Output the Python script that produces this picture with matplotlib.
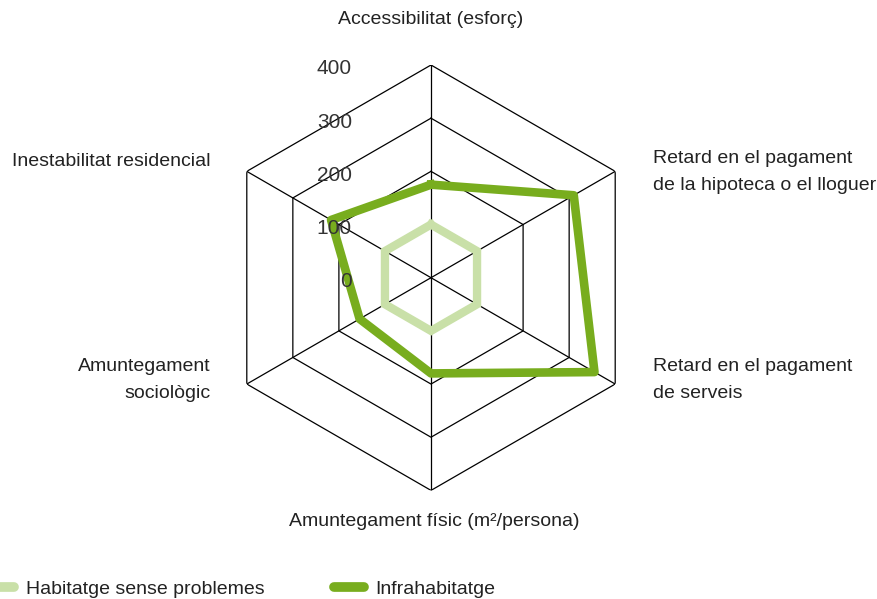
import numpy as np
import matplotlib
matplotlib.use('Agg')
import matplotlib.pyplot as plt
from matplotlib.lines import Line2D
from matplotlib.transforms import offset_copy

plt.rcParams['font.family'] = ['Liberation Sans', 'DejaVu Sans']

# data
categories = ['Accessibilitat (esforç)',
              'Retard en el pagament\nde la hipoteca o el lloguer',
              'Retard en el pagament\nde serveis',
              'Amuntegament físic (m²/persona)',
              'Amuntegament\nsociològic',
              'Inestabilitat residencial']
sense_problemes = [100, 100, 100, 100, 100, 100]
infrahabitatge = [175, 310, 355, 180, 155, 217]
ring_values = [100, 200, 300, 400]
ring_labels = ['0', '100', '200', '300', '400']
series_names = ['Habitatge sense problemes', 'Infrahabitatge']

light = '#c9e0a8'
dark = '#78ad1e'
txt = '#222222'

W, H = 878, 599
fig = plt.figure(figsize=(W / 100, H / 100), dpi=100)
cx, cy, R = 431, 277.7, 212.7
ax = fig.add_axes([(cx - R) / W, (H - cy - R) / H, 2 * R / W, 2 * R / H], projection='polar')
ax.set_theta_zero_location('N')
ax.set_theta_direction(-1)
ax.set_ylim(0, 400)
ax.grid(False)
ax.spines['polar'].set_visible(False)
ax.set_xticks([])
ax.set_yticks([])
ax.patch.set_alpha(0)

n = len(categories)
ang = np.linspace(0, 2 * np.pi, n, endpoint=False)
ang_c = np.append(ang, ang[0])

# rings and spokes
for rv in ring_values:
    ax.plot(ang_c, [rv] * (n + 1), color='black', lw=0.9, zorder=1)
for a in ang:
    ax.plot([a, a], [0, 400], color='black', lw=0.9, zorder=1)

# radial labels
tr = offset_copy(ax.transData, fig=fig, x=-79, y=-4, units='dots')
for i, lab in enumerate(ring_labels):
    ax.text(0, i * 100, lab, transform=tr, ha='right', va='center',
            fontsize=15, color='#333333', zorder=5)

# series
ax.plot(ang_c, sense_problemes + sense_problemes[:1], color=light, lw=6,
        solid_joinstyle='miter', zorder=3)
ax.plot(ang_c, infrahabitatge + infrahabitatge[:1], color=dark, lw=6.2,
        solid_joinstyle='round', zorder=4)

# category labels
lab_pos = [(431, 20, 'center'), (653, 172, 'left'), (653, 380, 'left'),
           (434, 521, 'center'), (211, 380, 'right'), (211, 162, 'right')]
for c, (x, y, ha) in zip(categories, lab_pos):
    fig.text(x / W, 1 - y / H, c, ha=ha, va='center', fontsize=14,
             color=txt, linespacing=1.8, multialignment=ha)

# legend
handles = [Line2D([], [], color=light, lw=7, solid_capstyle='round'),
           Line2D([], [], color=dark, lw=7, solid_capstyle='round')]
fig.legend(handles, series_names, loc='lower left', bbox_to_anchor=(-0.037, -0.027),
           ncol=2, frameon=False, fontsize=14, handlelength=1.5,
           handletextpad=0.6, columnspacing=3.6, labelcolor=txt)

fig.savefig('out.png', dpi=100)
